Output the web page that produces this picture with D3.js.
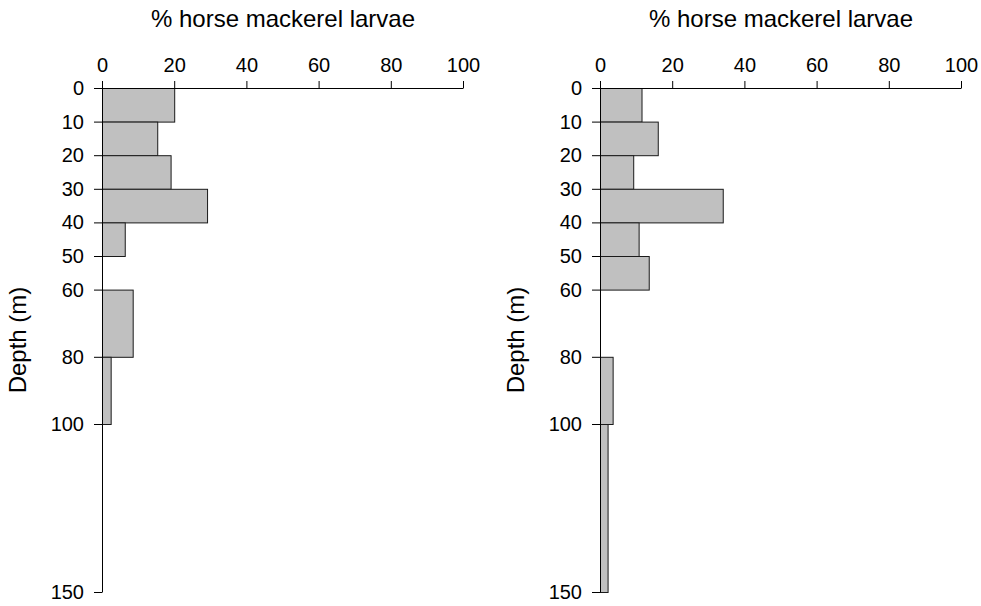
<!DOCTYPE html>
<html>
<head>
<meta charset="utf-8">
<script src="https://cdn.jsdelivr.net/npm/d3@7/dist/d3.min.js"></script>
<style>
  html, body { margin: 0; padding: 0; background: #fff; }
  svg { display: block; font-family: "Liberation Sans", Arial, sans-serif; }
</style>
</head>
<body>
<svg id="chart" width="981" height="606"></svg>
<script>
// ---- data ----
const binStart = [0, 10, 20, 30, 40, 50, 60, 80, 100];
const binEnd   = [10, 20, 30, 40, 50, 60, 80, 100, 150];
const leftValues  = [20, 15.3, 19, 29.1, 6.3, 0, 8.5, 2.4, 0];
const rightValues = [11.5, 16, 9.2, 34, 10.7, 13.5, 0, 3.5, 2.1];
const xTicks = [0, 20, 40, 60, 80, 100];
const yTicks = [0, 10, 20, 30, 40, 50, 60, 80, 100, 150];
const xTitle = "% horse mackerel larvae";
const yTitle = "Depth (m)";

const svg = d3.select("#chart");

const x = d3.scaleLinear().domain([0, 100]).range([0, 361]);
const y = d3.scaleLinear().domain([0, 150]).range([0, 504]);

function panel(ox, values) {
  const g = svg.append("g").attr("transform", `translate(${ox},88)`);

  const bins = binStart.map((s, i) => ({ s, e: binEnd[i], v: values[i] }))
    .filter(d => d.v > 0);

  g.selectAll("rect.bar").data(bins).join("rect")
    .attr("class", "bar")
    .attr("x", x(0) + 0.5)
    .attr("y", d => y(d.s) + 0.5)
    .attr("width", d => x(d.v) - x(0))
    .attr("height", d => y(d.e) - y(d.s))
    .attr("fill", "#c0c0c0")
    .attr("stroke", "#1a1a1a")
    .attr("stroke-width", 1);

  const yAxis = g.append("g")
    .call(d3.axisLeft(y).tickValues(yTicks).tickSize(8).tickPadding(10).tickSizeOuter(0).tickFormat(d3.format("d")));
  const xAxis = g.append("g")
    .call(d3.axisTop(x).tickValues(xTicks).tickSize(7).tickPadding(9).tickSizeOuter(0).tickFormat(d3.format("d")));

  [yAxis, xAxis].forEach(a => {
    a.attr("font-family", null).attr("font-size", null);
    a.selectAll("text").style("font-size", "20px").attr("fill", "#000");
    a.selectAll("line, path").attr("stroke", "#000");
  });

  svg.append("text")
    .attr("x", ox + x(50) + 0.5)
    .attr("y", 27)
    .attr("text-anchor", "middle")
    .style("font-size", "24px")
    .attr("fill", "#000")
    .text(xTitle);

  svg.append("text")
    .attr("transform", `translate(${ox - 76},${88 + y(75)}) rotate(-90)`)
    .attr("text-anchor", "middle")
    .style("font-size", "24px")
    .attr("fill", "#000")
    .text(yTitle);
}

panel(102, leftValues);
panel(600, rightValues);
</script>
</body>
</html>
